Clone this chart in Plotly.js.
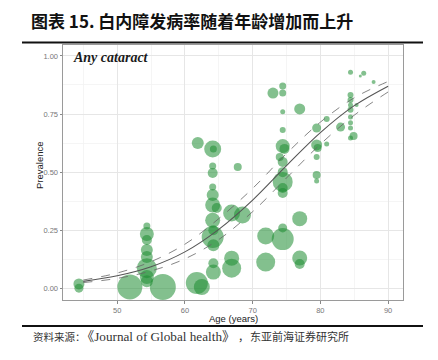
<!DOCTYPE html>
<html><head><meta charset="utf-8">
<script src="https://cdn.plot.ly/plotly-3.0.1.min.js"></script>
<style>html,body{margin:0;padding:0;background:#fff;}#chart{width:438px;height:360px;}</style>
</head><body><div id="chart"></div>
<script>
// Study-level prevalence of any cataract by mean age (bubble size ~ study size)
const ages = [44.35,44.35,51.87,54.38,54.38,54.38,54.38,54.38,54.38,54.38,54.38,56.74,61.76,62.5,61.9,64.1,64.2,64.1,64.1,64.1,64.1,64.1,64.7,64.1,64.2,64.1,64.2,64.2,64.2,66.9,68.5,67.8,66.9,66.9,73.0,74.44,74.44,74.44,76.95,74.44,74.44,74.7,74.0,74.44,74.44,74.44,74.44,74.44,79.45,80.93,79.45,79.6,80.93,79.45,79.45,79.45,82.98,84.45,86.4,85.9,87.86,84.45,84.45,84.45,84.45,84.45,84.45,84.45,84.9,84.45,85.35,76.95,71.93,74.44,74.44,71.93,76.95,76.95];
const prevalence = [0.019,0.001,0.006,0.268,0.234,0.208,0.165,0.135,0.087,0.049,0.031,0.006,0.023,0.006,0.625,0.600,0.600,0.527,0.496,0.436,0.402,0.359,0.346,0.293,0.250,0.221,0.186,0.108,0.070,0.324,0.316,0.522,0.130,0.087,0.840,0.871,0.841,0.760,0.772,0.681,0.612,0.600,0.565,0.544,0.500,0.458,0.432,0.410,0.690,0.729,0.617,0.604,0.621,0.565,0.488,0.462,0.694,0.930,0.925,0.914,0.888,0.832,0.810,0.789,0.768,0.737,0.712,0.690,0.656,0.647,0.789,0.300,0.225,0.212,0.260,0.113,0.131,0.105];
const studySize = [11,9,25,7,14,10,12,12,20,14,12,26,22,16,12,17,7,7,10,7,12,15,10,15,10,22,12,10,15,17,17,8,15,19,11,7,7,5,11,6,14,10,8,10,10,20,10,10,9,6,11,8,5,6,8,5,9,5,5,3,4,6,6,5,6,5,5,5,8,5,4,15,17,22,9,19,15,10];

// Fitted curve and confidence band
const fitAge = [45,50,55,60,65,70,75,80,85,90];
const fitMid = [0.030,0.054,0.093,0.157,0.254,0.380,0.528,0.670,0.786,0.870];
const fitUpper = [0.036,0.066,0.115,0.190,0.300,0.430,0.580,0.715,0.820,0.890];
const fitLower = [0.025,0.043,0.075,0.127,0.210,0.330,0.475,0.620,0.745,0.845];

const xTicks = [50,60,70,80,90];
const yTicks = [0,0.25,0.5,0.75,1];
const yTickText = ['0.00','0.25','0.50','0.75','1.00'];

const traces = [
  {x: ages, y: prevalence, mode: 'markers', type: 'scatter',
   marker: {size: studySize, sizemode: 'diameter', color: 'rgb(30,140,50)', opacity: 0.55, line: {width: 0}},
   hoverinfo: 'x+y'},
  {x: fitAge, y: fitUpper, mode: 'lines', line: {color: '#666', width: 0.8, dash: 'dash', shape: 'spline'}},
  {x: fitAge, y: fitLower, mode: 'lines', line: {color: '#666', width: 0.8, dash: 'dash', shape: 'spline'}},
  {x: fitAge, y: fitMid, mode: 'lines', line: {color: '#555', width: 1.1, shape: 'spline'}}
];

const pxX = v => (v - 63) / 340;
const pxY = v => (300 - v) / 255;
const serif = 'Liberation Serif, Noto Sans CJK SC, serif';

const layout = {
  width: 438, height: 360,
  margin: {l: 63, r: 35, t: 45, b: 60},
  paper_bgcolor: '#fff', plot_bgcolor: '#fff',
  showlegend: false,
  font: {family: 'Liberation Sans, Arial, sans-serif', color: '#4d4d4d'},
  title: {text: '<b>图表 15. 白内障发病率随着年龄增加而上升</b>',
          font: {family: 'Noto Sans CJK SC', size: 17, color: '#111'},
          x: 31/438, xanchor: 'left', xref: 'container', y: 1 - 22/360, yanchor: 'middle', yref: 'container'},
  xaxis: {range: [42, 92.2], tickvals: xTicks, ticks: 'outside', ticklen: 2.5, tickcolor: '#888',
          tickfont: {size: 7.5, color: '#777'}, showgrid: true, gridcolor: '#e6e6e6', gridwidth: 1,
          minor: {dtick: 5, tick0: 45, showgrid: true, gridcolor: '#f3f3f3', gridwidth: 0.8, ticks: ''},
          zeroline: false, showline: true, linecolor: '#9a9a9a', linewidth: 1, mirror: true},
  yaxis: {range: [-0.05, 1.047], tickvals: yTicks, ticktext: yTickText, ticks: 'outside', ticklen: 2.5, tickcolor: '#888',
          tickfont: {size: 7.5, color: '#777'}, showgrid: true, gridcolor: '#e6e6e6', gridwidth: 1,
          minor: {dtick: 0.125, tick0: 0.125, showgrid: true, gridcolor: '#f3f3f3', gridwidth: 0.8, ticks: ''},
          zeroline: false, showline: true, linecolor: '#9a9a9a', linewidth: 1, mirror: true},
  shapes: [
    {type: 'line', xref: 'paper', yref: 'paper', x0: pxX(22), x1: pxX(423), y0: pxY(42.5), y1: pxY(42.5), line: {color: '#111', width: 2}},
    {type: 'line', xref: 'paper', yref: 'paper', x0: pxX(22), x1: pxX(423), y0: pxY(326), y1: pxY(326), line: {color: '#111', width: 2}}
  ],
  annotations: [
    {text: 'Age (years)', xref: 'paper', yref: 'paper', x: pxX(233), y: pxY(318.5), xanchor: 'center', yanchor: 'middle',
     showarrow: false, font: {size: 9.5, color: '#222'}},
    {text: 'Prevalence', xref: 'paper', yref: 'paper', x: pxX(39), y: pxY(165), xanchor: 'center', yanchor: 'middle',
     textangle: -90, showarrow: false, font: {size: 9.5, color: '#222'}},
    {text: '<b><i>Any cataract</i></b>', xref: 'paper', yref: 'paper', x: pxX(71), y: pxY(57), xanchor: 'left', yanchor: 'middle',
     showarrow: false, font: {family: 'Liberation Serif, Times New Roman, serif', size: 14, color: '#1a1a1a'}},
    {text: '资料来源：', xref: 'paper', yref: 'paper', x: pxX(31), y: pxY(336.5),
     xanchor: 'left', yanchor: 'middle', showarrow: false, font: {family: serif, size: 10.5, color: '#333'}},
    {text: '《Journal of Global health》', xref: 'paper', yref: 'paper', x: pxX(79), y: pxY(336.5),
     xanchor: 'left', yanchor: 'middle', showarrow: false, font: {family: serif, size: 13.2, color: '#333'}},
    {text: '，', xref: 'paper', yref: 'paper', x: pxX(236), y: pxY(336.5),
     xanchor: 'left', yanchor: 'middle', showarrow: false, font: {family: serif, size: 11, color: '#333'}},
    {text: '东亚前海证券研究所', xref: 'paper', yref: 'paper', x: pxX(248), y: pxY(336.5),
     xanchor: 'left', yanchor: 'middle', showarrow: false, font: {family: serif, size: 11, color: '#333'}}
  ]
};

Plotly.newPlot('chart', traces, layout, {displayModeBar: false, staticPlot: true});
</script>
</body></html>
